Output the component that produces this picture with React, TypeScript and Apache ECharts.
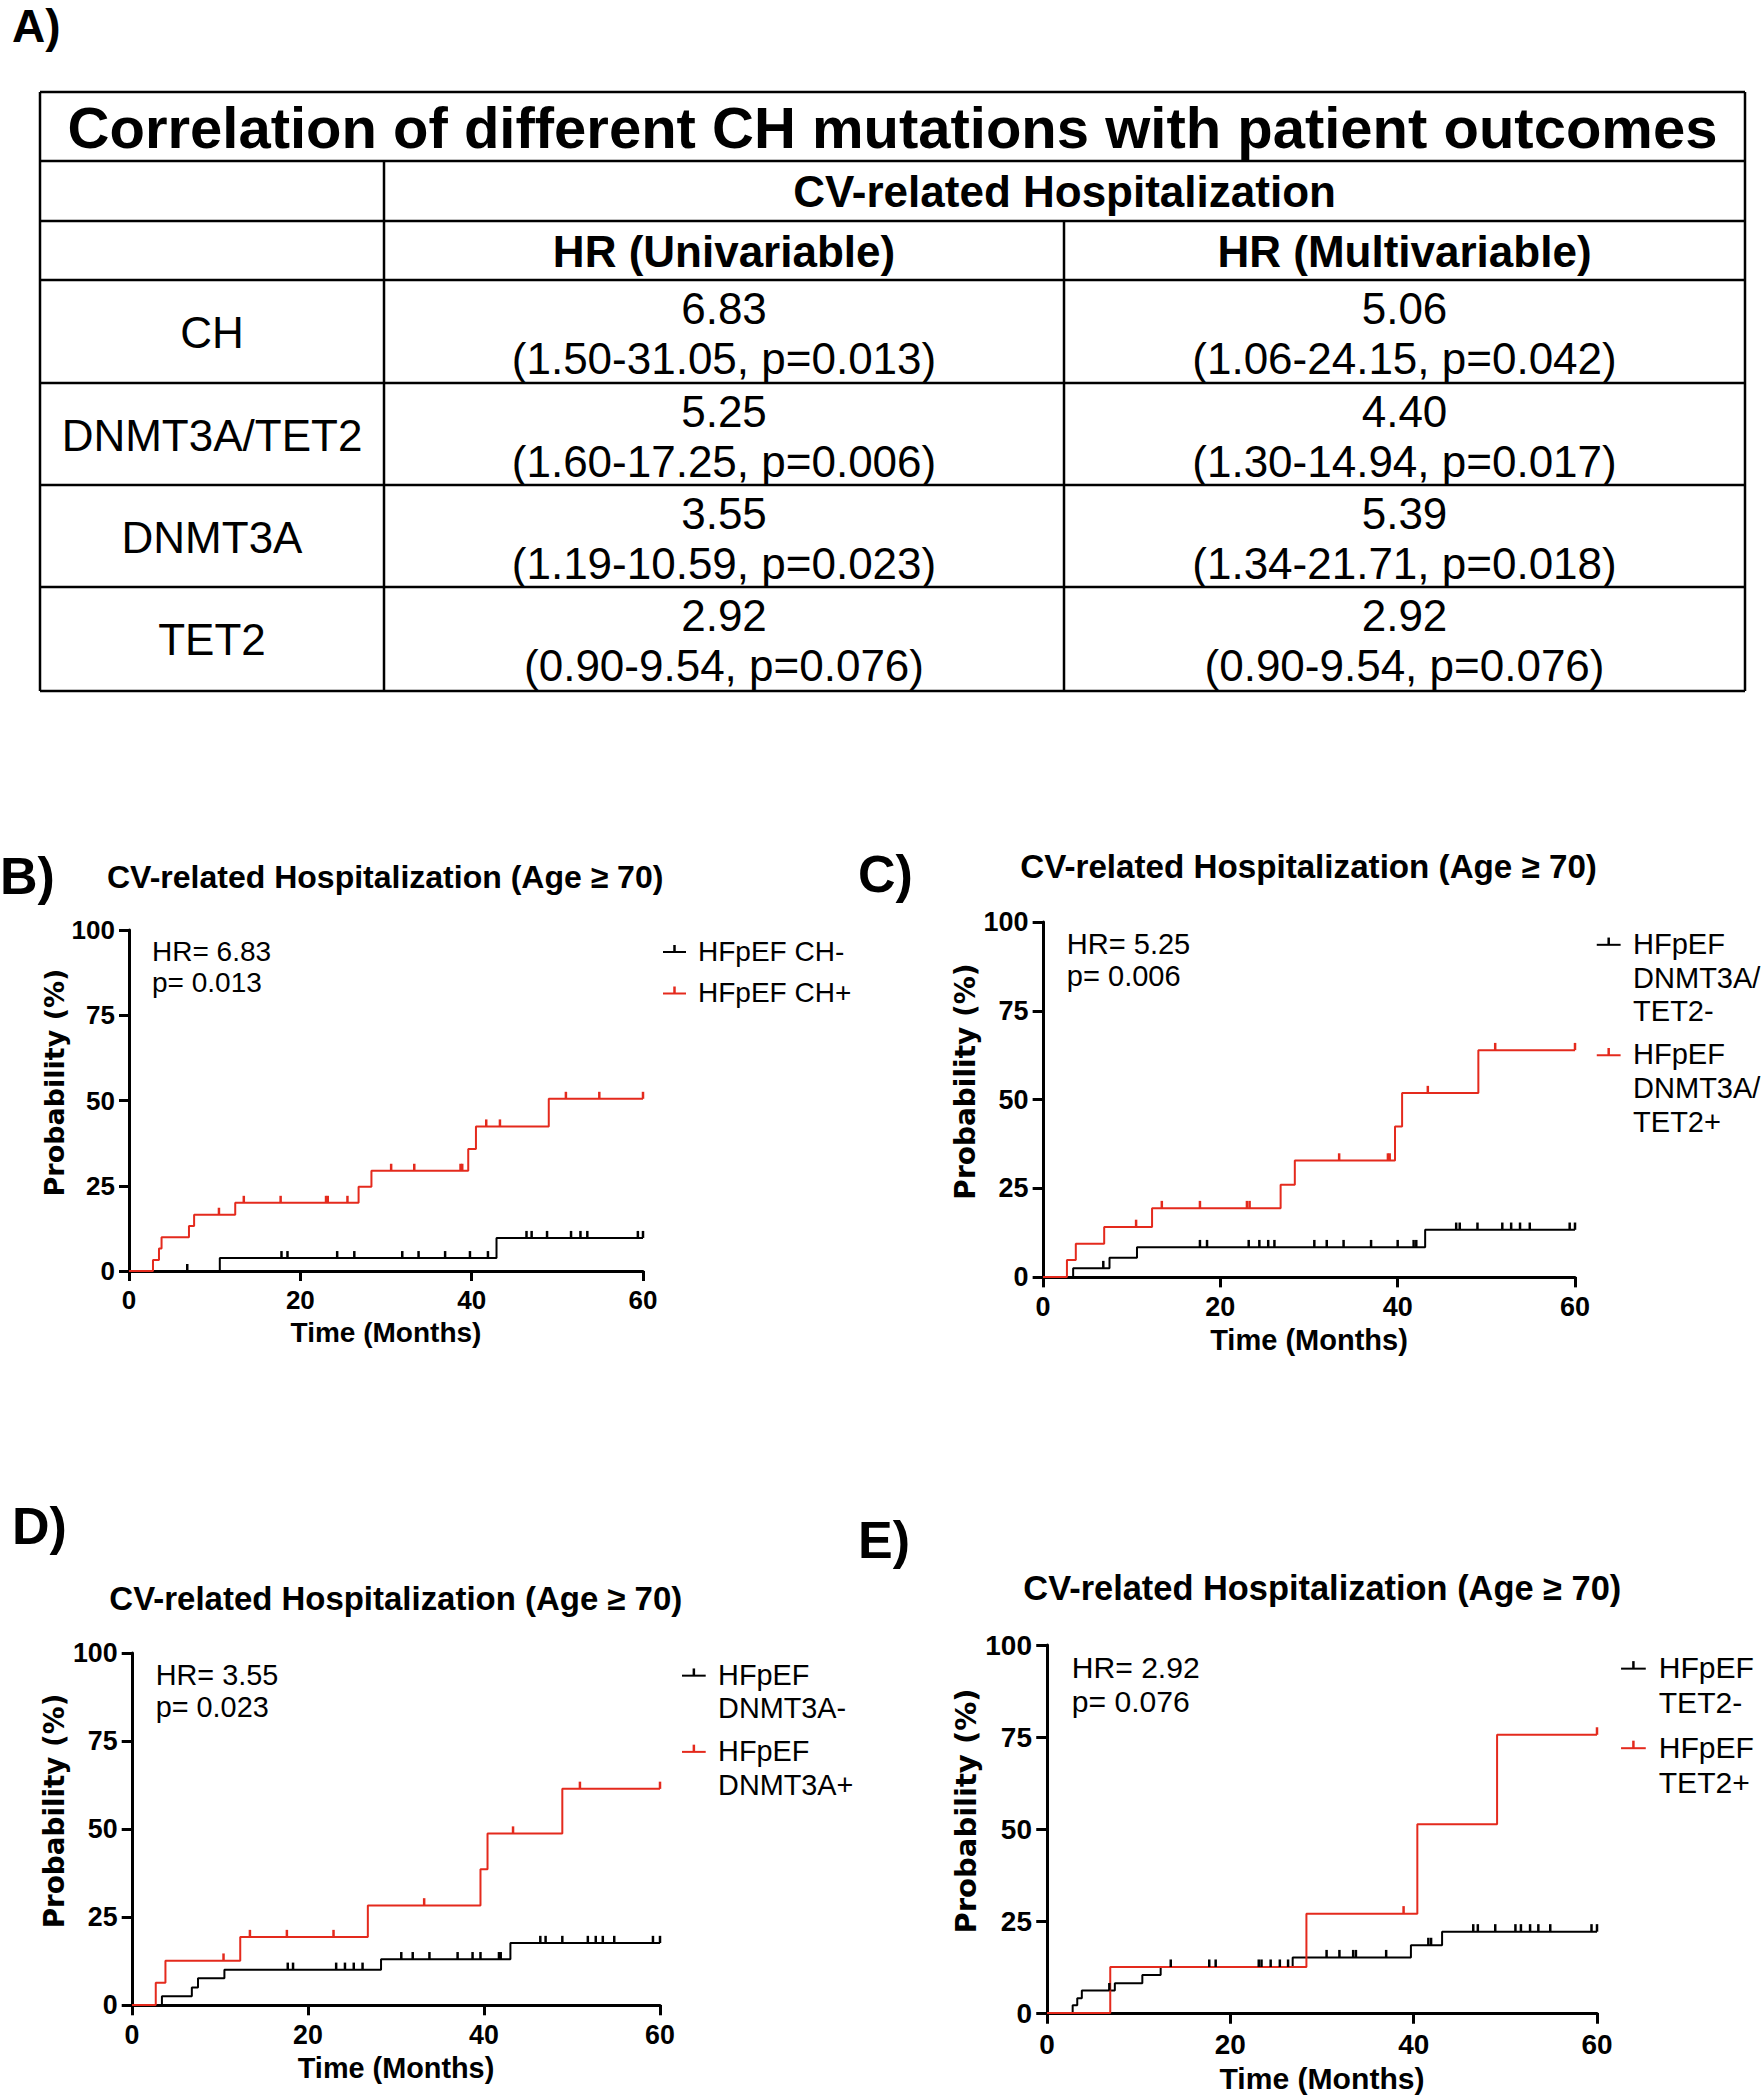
import React, { useEffect, useRef } from 'react';
import * as echarts from 'echarts';

const FONT = '"Liberation Sans", Arial, Helvetica, sans-serif';
const WIDE_FONT = '"DejaVu Sans", Verdana, sans-serif';
const RED = '#e42a1d';
const BLACK = '#000000';

// ---------- Table (panel A) ----------
const tableTitle = 'Correlation of different CH mutations with patient outcomes';
const tableGroupHeader = 'CV-related Hospitalization';
const tableColumns = ['HR (Univariable)', 'HR (Multivariable)'];
const tableRows = ['CH', 'DNMT3A/TET2', 'DNMT3A', 'TET2'];
const hrUni = ['6.83', '5.25', '3.55', '2.92'];
const ciUni = ['(1.50-31.05, p=0.013)', '(1.60-17.25, p=0.006)', '(1.19-10.59, p=0.023)', '(0.90-9.54, p=0.076)'];
const hrMulti = ['5.06', '4.40', '5.39', '2.92'];
const ciMulti = ['(1.06-24.15, p=0.042)', '(1.30-14.94, p=0.017)', '(1.34-21.71, p=0.018)', '(0.90-9.54, p=0.076)'];

// ---------- Kaplan-Meier panels ----------
const panelTitle = 'CV-related Hospitalization (Age \u2265 70)';
const xAxisTitle = 'Time (Months)';
const yAxisTitle = 'Probability (%)';

// Panel B: CH
const bNegSteps = [[0, 0], [10.6, 3.8], [42.9, 9.7], [60, 9.7]];
const bNegCensor = [[6.8, 0], [17.8, 3.8], [18.5, 3.8], [24.3, 3.8], [26.3, 3.8], [31.9, 3.8], [33.8, 3.8], [36.9, 3.8], [39.8, 3.8], [41.9, 3.8],
  [46.4, 9.7], [47.0, 9.7], [48.8, 9.7], [51.6, 9.7], [52.7, 9.7], [53.5, 9.7], [59.4, 9.7], [60, 9.7]];
const bPosSteps = [[0, 0], [2.8, 3.2], [3.5, 6.6], [3.8, 9.9], [7.0, 13.2], [7.6, 16.5], [12.4, 20.0], [26.8, 24.7], [28.3, 29.4], [39.6, 35.8], [40.5, 42.4], [49.0, 50.5], [60, 50.5]];
const bPosCensor = [[10.5, 16.5], [13.4, 20], [17.7, 20], [23.0, 20], [23.2, 20], [25.5, 20], [30.6, 29.4], [33.3, 29.4], [38.7, 29.4], [38.9, 29.4],
  [41.7, 42.4], [43.3, 42.4], [51.0, 50.5], [54.9, 50.5], [60, 50.5]];

// Panel C: DNMT3A/TET2
const cNegSteps = [[0, 0], [3.4, 2.5], [7.5, 5.4], [10.6, 8.4], [43.1, 13.3], [60, 13.3]];
const cNegCensor = [[6.8, 2.5], [17.7, 8.4], [18.5, 8.4], [23.2, 8.4], [24.4, 8.4], [25.4, 8.4], [26.1, 8.4], [30.6, 8.4], [32.0, 8.4], [33.9, 8.4], [37.0, 8.4], [40.0, 8.4], [41.8, 8.4], [42.1, 8.4],
  [46.6, 13.3], [47.0, 13.3], [49.0, 13.3], [51.8, 13.3], [52.8, 13.3], [53.8, 13.3], [54.9, 13.3], [59.4, 13.3], [60, 13.3]];
const cPosSteps = [[0, 0], [2.7, 4.8], [3.7, 9.4], [6.9, 14.1], [12.3, 19.4], [26.8, 26.0], [28.4, 32.8], [39.7, 42.4], [40.5, 51.8], [49.1, 63.9], [60, 63.9]];
const cPosCensor = [[10.5, 14.1], [13.4, 19.4], [17.7, 19.4], [23.0, 19.4], [23.3, 19.4], [33.4, 32.8], [38.9, 32.8], [39.1, 32.8], [43.4, 51.8], [51.0, 63.9], [60, 63.9]];

// Panel D: DNMT3A
const dNegSteps = [[0, 0], [3.4, 2.5], [6.8, 5.0], [7.5, 7.6], [10.5, 10.0], [28.3, 13.0], [43.0, 17.6], [60, 17.6]];
const dNegCensor = [[17.7, 10], [18.3, 10], [23.2, 10], [24.2, 10], [25.2, 10], [26.2, 10],
  [30.6, 13], [31.9, 13], [33.8, 13], [37.0, 13], [38.7, 13], [39.6, 13], [41.7, 13], [41.9, 13],
  [46.4, 17.6], [47.0, 17.6], [48.9, 17.6], [51.8, 17.6], [52.7, 17.6], [53.5, 17.6], [54.8, 17.6], [59.2, 17.6], [60, 17.6]];
const dPosSteps = [[0, 0], [2.7, 6.3], [3.8, 12.6], [12.3, 19.3], [26.8, 28.3], [39.6, 38.6], [40.4, 48.7], [48.9, 61.4], [60, 61.4]];
const dPosCensor = [[10.4, 12.6], [13.4, 19.3], [17.6, 19.3], [22.9, 19.3], [33.2, 28.3], [43.3, 48.7], [50.9, 61.4], [60, 61.4]];

// Panel E: TET2
const eNegSteps = [[0, 0], [2.8, 2.1], [3.3, 4.0], [3.8, 6.1], [7.4, 8.1], [10.4, 10.3], [12.4, 12.5], [26.8, 15.1], [39.7, 18.4], [43.1, 22.1], [60, 22.1]];
const eNegCensor = [[6.8, 6.1], [13.5, 12.5], [17.7, 12.5], [18.4, 12.5], [23.1, 12.5], [23.4, 12.5], [24.4, 12.5], [25.4, 12.5], [26.3, 12.5],
  [30.5, 15.1], [31.9, 15.1], [33.4, 15.1], [33.7, 15.1], [37.0, 15.1], [41.6, 18.4], [41.9, 18.4],
  [46.5, 22.1], [47.0, 22.1], [48.9, 22.1], [51.1, 22.1], [51.7, 22.1], [52.7, 22.1], [53.6, 22.1], [54.9, 22.1], [59.4, 22.1], [60, 22.1]];
const ePosSteps = [[0, 0], [6.9, 12.5], [28.3, 27.0], [40.4, 51.3], [49.1, 75.6], [60, 75.6]];
const ePosCensor = [[38.9, 27.0], [60, 75.6]];

const hrTexts = [
  ['HR= 6.83', 'p= 0.013'],
  ['HR= 5.25', 'p= 0.006'],
  ['HR= 3.55', 'p= 0.023'],
  ['HR= 2.92', 'p= 0.076'],
];
const legendNeg = [['HFpEF CH-'], ['HFpEF', 'DNMT3A/', 'TET2-'], ['HFpEF', 'DNMT3A-'], ['HFpEF', 'TET2-']];
const legendPos = [['HFpEF CH+'], ['HFpEF', 'DNMT3A/', 'TET2+'], ['HFpEF', 'DNMT3A+'], ['HFpEF', 'TET2+']];
const panelLabels = ['B)', 'C)', 'D)', 'E)'];

const negSteps = [bNegSteps, cNegSteps, dNegSteps, eNegSteps];
const negCensor = [bNegCensor, cNegCensor, dNegCensor, eNegCensor];
const posSteps = [bPosSteps, cPosSteps, dPosSteps, ePosSteps];
const posCensor = [bPosCensor, cPosCensor, dPosCensor, ePosCensor];

// layout (pixels)
const layouts = [
  { labelX: 0, labelBase: 894, left: 129, top: 930, width: 514, height: 341, s: 1 },
  { labelX: 858, labelBase: 892, left: 1043, top: 922, width: 532, height: 355, s: 1.037 },
  { labelX: 12, labelBase: 1544, left: 132, top: 1653, width: 528, height: 352, s: 1.03 },
  { labelX: 858, labelBase: 1558, left: 1047, top: 1645, width: 550, height: 368, s: 1.075 },
];

function text(x: number, y: number, t: string, fs: number, opts: any = {}) {
  const align = opts.align || 'center';
  return {
    type: 'text',
    x,
    y,
    rotation: opts.rotation || 0,
    silent: true,
    style: {
      text: t,
      fontSize: fs,
      fontWeight: opts.bold ? 'bold' : 'normal',
      fontFamily: opts.font || FONT,
      fill: opts.color || BLACK,
      align,
      textAlign: align,
      verticalAlign: 'middle',
      textVerticalAlign: 'middle',
    },
  };
}
// place by baseline
function textB(x: number, baseline: number, t: string, fs: number, opts: any = {}) {
  return text(x, baseline - 0.35 * fs, t, fs, opts);
}
function line(x1: number, y1: number, x2: number, y2: number, w: number, color = BLACK) {
  return { type: 'line', silent: true, shape: { x1, y1, x2, y2 }, style: { stroke: color, lineWidth: w } };
}

function buildTable(): any[] {
  const g: any[] = [];
  const L = 40, R = 1745, T = 92, B = 691;
  const colX = [L, 384, 1064, R];
  const rowY = [T, 161, 221, 280, 383, 485, 587, B];
  const lw = 2.5;
  g.push(textB(12, 42, 'A)', 46, { bold: true, align: 'left' }));
  // borders
  g.push(line(L, T, R, T, lw), line(L, B, R, B, lw), line(L, T, L, B, lw), line(R, T, R, B, lw));
  for (let i = 1; i < rowY.length - 1; i++) g.push(line(L, rowY[i], R, rowY[i], lw));
  g.push(line(colX[1], rowY[1], colX[1], B, lw));
  g.push(line(colX[2], rowY[2], colX[2], B, lw));
  // texts
  g.push(text((L + R) / 2, 127, tableTitle, 58, { bold: true }));
  g.push(text((colX[1] + R) / 2, 191, tableGroupHeader, 44, { bold: true }));
  g.push(text((colX[1] + colX[2]) / 2, 251, tableColumns[0], 44, { bold: true }));
  g.push(text((colX[2] + R) / 2, 251, tableColumns[1], 44, { bold: true }));
  for (let r = 0; r < tableRows.length; r++) {
    const top = rowY[r + 3];
    g.push(text((L + colX[1]) / 2, top + 52, tableRows[r], 44));
    g.push(text((colX[1] + colX[2]) / 2, top + 28, hrUni[r], 44));
    g.push(text((colX[1] + colX[2]) / 2, top + 78, ciUni[r], 44));
    g.push(text((colX[2] + R) / 2, top + 28, hrMulti[r], 44));
    g.push(text((colX[2] + R) / 2, top + 78, ciMulti[r], 44));
  }
  return g;
}

function buildPanelGraphics(i: number): any[] {
  const g: any[] = [];
  const p = layouts[i];
  const s = p.s;
  g.push(textB(p.labelX, p.labelBase, panelLabels[i], 52, { bold: true, align: 'left' }));
  g.push(textB(p.left - 22 * s, p.top - 42 * s, panelTitle, 32 * s, { bold: true, align: 'left' }));
  g.push(textB(p.left + 23 * s, p.top + 31 * s, hrTexts[i][0], 28 * s, { align: 'left' }));
  g.push(textB(p.left + 23 * s, p.top + 62 * s, hrTexts[i][1], 28 * s, { align: 'left' }));
  // legend
  const lh = 32.5 * s;
  const gap = 9 * s;
  let base = p.top + 31 * s;
  const entries = [
    { lines: legendNeg[i], color: BLACK },
    { lines: legendPos[i], color: RED },
  ];
  for (const e of entries) {
    const mx1 = p.left + 534 * s, mx2 = p.left + 557 * s;
    const my = base - 9 * s;
    g.push(line(mx1, my, mx2, my, 2, e.color));
    g.push(line((mx1 + mx2) / 2, my, (mx1 + mx2) / 2, my - 7 * s, 2.5, e.color));
    e.lines.forEach((t, k) => {
      g.push(textB(p.left + 569 * s, base + k * lh, t, 28 * s, { align: 'left' }));
    });
    base += e.lines.length * lh + gap;
  }
  // axis titles
  g.push(text(p.left - 75 * s, p.top + p.height / 2 - 18, yAxisTitle, 27 * s, { bold: true, rotation: Math.PI / 2, font: WIDE_FONT }));
  g.push(textB(p.left + p.width / 2, p.top + p.height + 71 * s, xAxisTitle, 28 * s, { bold: true }));
  return g;
}

function buildOption() {
  const grid: any[] = [];
  const xAxis: any[] = [];
  const yAxis: any[] = [];
  const series: any[] = [];
  let graphic: any[] = buildTable();
  layouts.forEach((p, i) => {
    const s = p.s;
    grid.push({ left: p.left, top: p.top, width: p.width, height: p.height, containLabel: false });
    const axisCommon = {
      type: 'value',
      gridIndex: i,
      splitLine: { show: false },
      axisLine: { show: true, onZero: false, lineStyle: { color: BLACK, width: 3 } },
      axisTick: { show: true, inside: false, length: 10 * s, lineStyle: { color: BLACK, width: 3 } },
    };
    xAxis.push({
      ...axisCommon,
      min: 0, max: 60, interval: 20,
      axisLabel: { show: true, fontSize: 26 * s, fontWeight: 'bold', color: BLACK, fontFamily: FONT, margin: 16 * s },
    });
    yAxis.push({
      ...axisCommon,
      min: 0, max: 100, interval: 25,
      axisLabel: { show: true, fontSize: 26 * s, fontWeight: 'bold', color: BLACK, fontFamily: FONT, margin: 14 * s },
    });
    const lineSeries = (data: number[][], color: string, name: string) => ({
      type: 'line', name, xAxisIndex: i, yAxisIndex: i, data, step: 'end', symbol: 'none', silent: true,
      lineStyle: { color, width: 2 }, itemStyle: { color }, z: color === RED ? 4 : 3,
    });
    const censorSeries = (data: number[][], color: string, name: string) => ({
      type: 'scatter', name, xAxisIndex: i, yAxisIndex: i, data, symbol: 'rect', silent: true,
      symbolSize: [2.5, 7 * s], symbolOffset: [0, -3.5 * s],
      itemStyle: { color, opacity: 1 }, z: 5,
    });
    series.push(lineSeries(negSteps[i], BLACK, legendNeg[i].join(' ')));
    series.push(lineSeries(posSteps[i], RED, legendPos[i].join(' ')));
    series.push(censorSeries(negCensor[i], BLACK, legendNeg[i].join(' ') + ' censored'));
    series.push(censorSeries(posCensor[i], RED, legendPos[i].join(' ') + ' censored'));
    graphic = graphic.concat(buildPanelGraphics(i));
  });
  return {
    animation: false,
    backgroundColor: '#ffffff',
    grid, xAxis, yAxis, series,
    graphic: { elements: graphic },
  };
}

export default function App() {
  const ref = useRef<HTMLDivElement>(null);
  useEffect(() => {
    if (!ref.current) return;
    const chart = echarts.init(ref.current, undefined, { renderer: 'svg' });
    chart.setOption(buildOption() as any);
    return () => chart.dispose();
  }, []);
  return (
    <div
      ref={ref}
      style={{ position: 'absolute', left: 0, top: 0, width: 1762, height: 2100, background: '#fff' }}
    />
  );
}
